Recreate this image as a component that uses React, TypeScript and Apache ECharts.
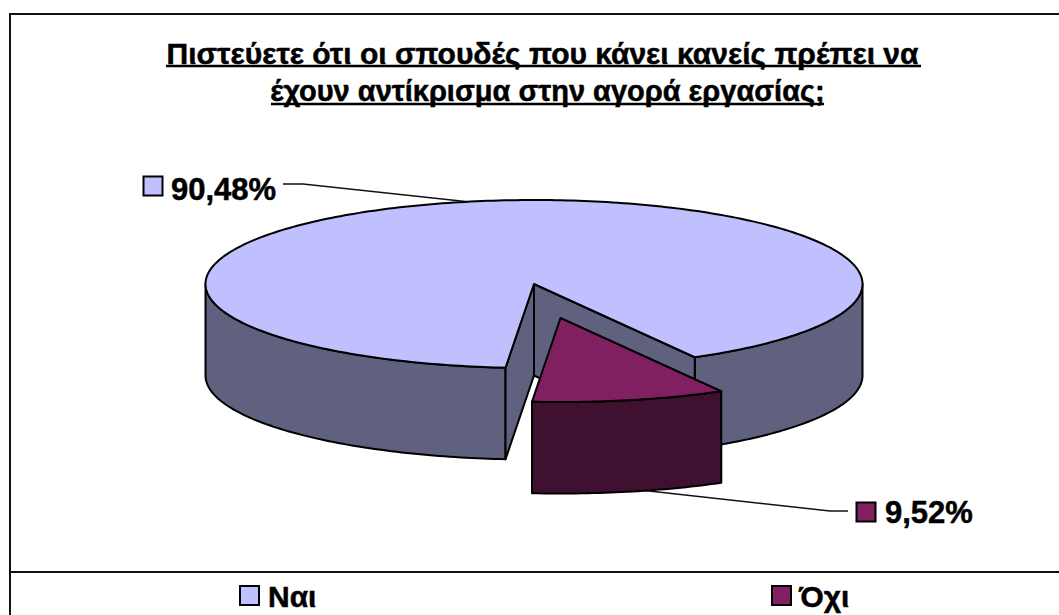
import React, { useEffect, useRef } from "react";
import * as echarts from "echarts";

const categories = ["Ναι", "Όχι"];
const values = [90.48, 9.52];
const valueLabels = ["90,48%", "9,52%"];
const titleLines = [
  "Πιστεύετε ότι οι σπουδές που κάνει κανείς πρέπει να",
  "έχουν αντίκρισμα στην αγορά εργασίας;",
];

const CX = 534, CY = 284, RX = 328.5, RY = 84, DEPTH = 91.5;
const START = 60.7; // where the second slice begins, degrees clockwise from +x
const EXPLODE: [number, number][] = [[0, 0], [26.5, 34]];
const TOP = ["#c0c0ff", "#802060"];
const SIDE = ["#60607f", "#401030"];
const INK = "#000";
const FONT = "Liberation Sans";

const total = values.reduce((a, b) => a + b, 0);

function pt(deg: number, ox: number, oy: number, dz = 0): [number, number] {
  const r = (deg * Math.PI) / 180;
  return [CX + ox + RX * Math.cos(r), CY + oy + dz + RY * Math.sin(r)];
}
function arc(a: number, b: number, ox: number, oy: number, dz = 0) {
  const pts: [number, number][] = [];
  const n = Math.max(2, Math.ceil(Math.abs(b - a) / 1));
  for (let i = 0; i <= n; i++) pts.push(pt(a + ((b - a) * i) / n, ox, oy, dz));
  return pts;
}
function poly(points: [number, number][], fill: string) {
  return {
    type: "polygon",
    shape: { points },
    style: { fill, stroke: INK, lineWidth: 2, lineJoin: "round" },
  };
}
function wall(a: number, b: number, ox: number, oy: number, fill: string) {
  return poly([...arc(a, b, ox, oy), ...arc(b, a, ox, oy, DEPTH)], fill);
}

function renderSlice(params: any, api: any) {
  const i = params.dataIndex;
  const sweep = (api.value(0) / total) * 360;
  const [ox, oy] = EXPLODE[i];
  const children: any[] = [];
  const c: [number, number] = [CX + ox, CY + oy];
  const cb: [number, number] = [CX + ox, CY + oy + DEPTH];
  if (i === 0) {
    // big slice runs from the end of the small slice round to its start
    const a = START + (values[1] / total) * 360;
    const b = a + sweep;
    const pa = pt(a, ox, oy), pb = pt(b, ox, oy);
    children.push(wall(a, 180, ox, oy, SIDE[i]));
    children.push(wall(360, b, ox, oy, SIDE[i]));
    children.push(poly([c, pb, [pb[0], pb[1] + DEPTH], cb], SIDE[i]));
    children.push(poly([c, pa, [pa[0], pa[1] + DEPTH], cb], SIDE[i]));
    children.push(poly([c, ...arc(a, b, ox, oy)], TOP[i]));
  } else {
    const a = START, b = START + sweep;
    children.push(wall(a, b, ox, oy, SIDE[i]));
    children.push(poly([c, ...arc(a, b, ox, oy)], TOP[i]));
  }
  return { type: "group", children };
}

function sq(x: number, y: number, i: number) {
  return {
    type: "rect",
    shape: { x, y, width: 19, height: 19 },
    style: { fill: TOP[i], stroke: INK, lineWidth: 2 },
  };
}
function txt(x: number, y: number, text: string, size: number, extra: any = {}) {
  return {
    type: "text",
    x,
    y,
    style: {
      text,
      fill: INK,
      stroke: INK,
      lineWidth: 0.5,
      font: `bold ${size}px "${FONT}"`,
      textAlign: "left",
      textVerticalAlign: "middle",
      ...extra,
    },
  };
}
function seg(points: [number, number][], lineWidth = 2, stroke = "#111") {
  return {
    type: "polyline",
    shape: { points },
    style: { stroke, lineWidth, fill: "none" },
  };
}

export default function App() {
  const ref = useRef<HTMLDivElement>(null);
  useEffect(() => {
    document.body.style.margin = "0";
    const chart = echarts.init(ref.current!, undefined, { renderer: "svg" });
    chart.setOption({
      animation: false,
      backgroundColor: "#fff",
      series: [
        {
          type: "custom",
          coordinateSystem: "none",
          silent: true,
          clip: false,
          renderItem: renderSlice,
          data: categories.map((name, i) => ({ name, value: [values[i]] })),
        },
      ],
      graphic: [
        seg([[10, 615], [10, 14], [1059, 14]]),
        seg([[10, 572], [1059, 572]]),
        txt(542.5, 53, titleLines[0], 30, { textAlign: "center" }),
        seg([[166, 66], [921, 66]], 2.5, "#000"),
        txt(547.5, 91, titleLines[1], 29, { textAlign: "center" }),
        seg([[271, 104], [824, 104]], 2.5, "#000"),
        sq(143.5, 176.5, 0),
        txt(171, 189, valueLabels[0], 31),
        seg([[283, 184], [303, 184], [470, 202]], 1.5),
        sq(856.5, 502.5, 1),
        txt(885, 512, valueLabels[1], 31),
        seg([[622, 488], [830, 511], [848, 511]], 1.5),
        sq(240, 586, 0),
        txt(268, 596, categories[0], 30),
        sq(772, 586, 1),
        txt(799, 596, categories[1], 30),
      ],
    });
    return () => chart.dispose();
  }, []);
  return <div ref={ref} style={{ width: 1059, height: 615 }} />;
}
